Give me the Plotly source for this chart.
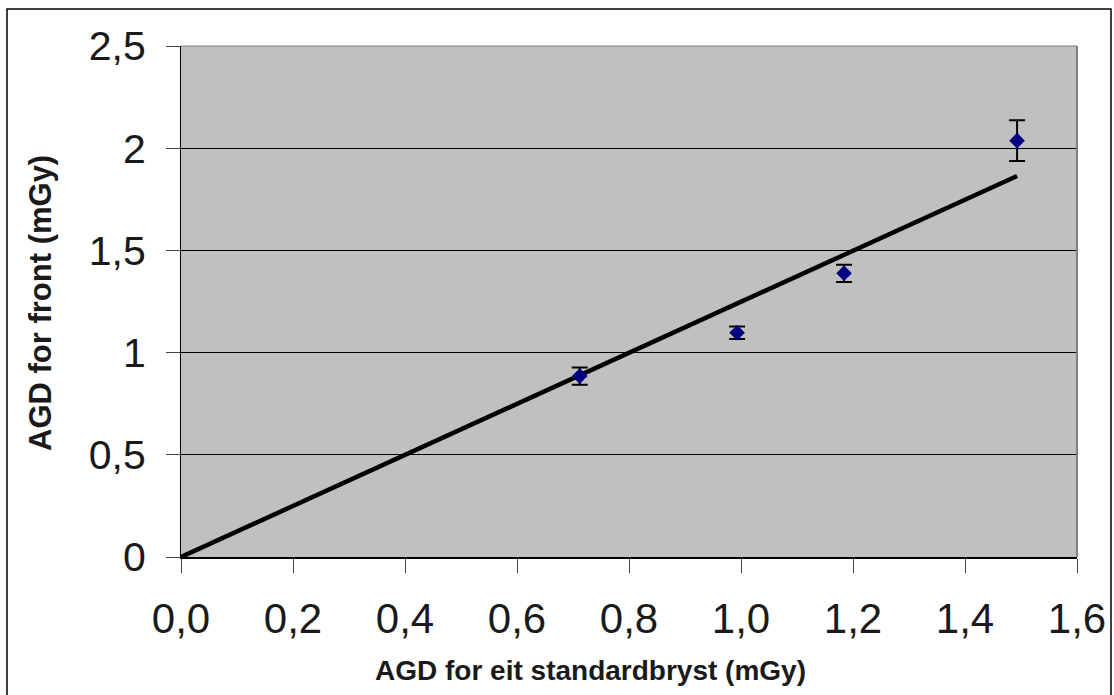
import plotly.graph_objects as go

# Data
agd_standard = [0.712, 0.993, 1.184, 1.493]
agd_front = [0.885, 1.097, 1.388, 2.037]
agd_front_err = [0.042, 0.031, 0.042, 0.100]
trend_x = [0.0, 1.493]
trend_y = [0.0, 1.864]

x_ticks = [0.0, 0.2, 0.4, 0.6, 0.8, 1.0, 1.2, 1.4, 1.6]
y_ticks = [0, 0.5, 1, 1.5, 2, 2.5]

W, H = 1114, 695
L, R, T, B = 181, 37, 46, 138
pw, ph = W - L - R, H - T - B

fig = go.Figure()
fig.add_trace(go.Scatter(
    x=trend_x, y=trend_y, mode="lines",
    line=dict(color="black", width=4.5), showlegend=False, hoverinfo="skip"))
fig.add_trace(go.Scatter(
    x=agd_standard, y=agd_front, mode="markers",
    marker=dict(symbol="diamond", size=12, color="#000080"),
    error_y=dict(type="data", array=agd_front_err, visible=True,
                 color="black", thickness=2, width=8),
    showlegend=False))

font_fam = "Liberation Sans, Arial, sans-serif"
fig.update_layout(
    width=W, height=H,
    margin=dict(l=L, r=R, t=T, b=B, autoexpand=False),
    paper_bgcolor="white", plot_bgcolor="#C0C0C0",
    separators=",.",
    font=dict(family=font_fam, color="#1a1a1a"),
    xaxis=dict(range=[0, 1.6], tickvals=x_ticks, tickformat=".1f",
               ticks="outside", ticklen=14, tickcolor="#444",
               showgrid=False, zeroline=False, showline=True,
               linecolor="black", linewidth=2,
               tickfont=dict(size=42, family=font_fam, color="#1a1a1a"),
               ticklabelstandoff=10),
    yaxis=dict(range=[0, 2.5], tickvals=y_ticks,
               ticks="outside", ticklen=14, tickcolor="#444",
               showgrid=True, gridcolor="black", gridwidth=1,
               zeroline=False, showline=True,
               linecolor="black", linewidth=1,
               tickfont=dict(size=41, family=font_fam, color="#1a1a1a"),
               ticklabelstandoff=12),
    shapes=[
        # right / top frame of plot area
        dict(type="line", xref="paper", yref="paper", x0=1, x1=1, y0=0, y1=1,
             line=dict(color="#808080", width=2)),
        dict(type="line", xref="paper", yref="paper", x0=0, x1=1, y0=1, y1=1,
             line=dict(color="#808080", width=1)),
        # outer chart border
        dict(type="rect", xref="paper", yref="paper",
             x0=(7 - L) / pw, x1=(1111 - L) / pw,
             y0=(H - B - 720) / ph, y1=(H - B - 9) / ph,
             line=dict(color="black", width=1.5), fillcolor="rgba(0,0,0,0)"),
    ],
    annotations=[
        dict(text="<b>AGD for eit standardbryst (mGy)</b>", xref="paper", yref="paper",
             x=(590 - L) / pw, y=(H - B - 670) / ph, xanchor="center", yanchor="middle",
             showarrow=False, font=dict(size=28, family=font_fam, color="#1a1a1a")),
        dict(text="<b>AGD for front (mGy)</b>", xref="paper", yref="paper",
             x=(40 - L) / pw, y=(H - B - 303) / ph, xanchor="center", yanchor="middle",
             textangle=-90,
             showarrow=False, font=dict(size=31, family=font_fam, color="#1a1a1a")),
    ],
)

fig.write_html("out.html")
